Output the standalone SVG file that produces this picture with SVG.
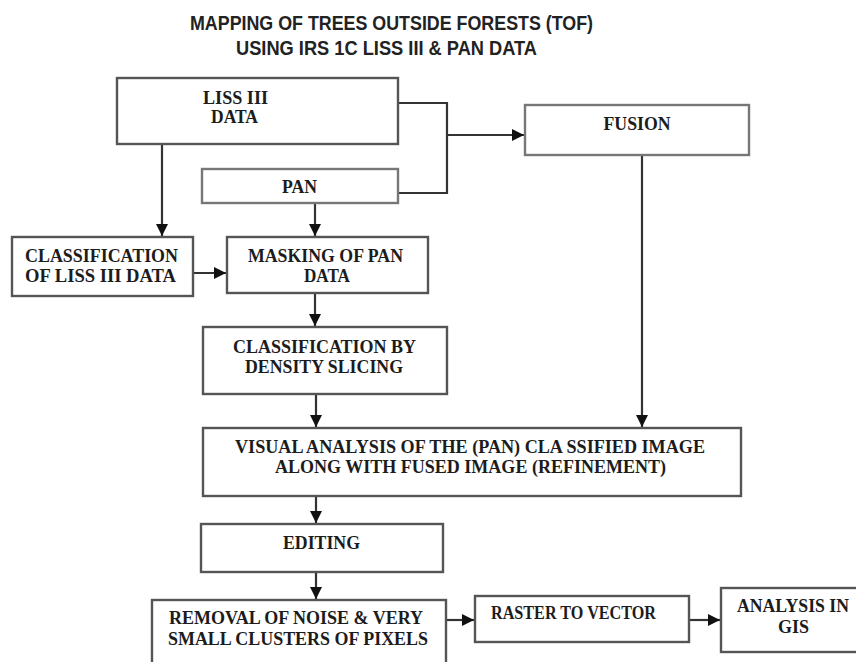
<svg xmlns="http://www.w3.org/2000/svg" width="856" height="662" viewBox="0 0 856 662">
<defs>
<marker id="ah" markerUnits="userSpaceOnUse" markerWidth="12" markerHeight="12" refX="12" refY="6" orient="auto">
<path d="M0,0 L12,6 L0,12 z" fill="#111"/>
</marker>
<style>
.box{fill:#fff;stroke:#555;stroke-width:2.4}
.lt{stroke:#777}
.t{font-family:"Liberation Serif","Times New Roman",serif;font-weight:bold;font-size:18px;fill:#1c1c1c;text-anchor:middle}
.title{font-family:"Liberation Sans Narrow","Liberation Sans",Arial,sans-serif;font-weight:bold;font-size:21px;fill:#222;text-anchor:middle}
.c{fill:none;stroke:#333;stroke-width:2.2}
.a{marker-end:url(#ah)}
</style>
</defs>
<rect width="856" height="662" fill="#fff"/>
<g id="title">
<text class="title" x="391.5" y="30" textLength="403" lengthAdjust="spacingAndGlyphs">MAPPING OF TREES OUTSIDE FORESTS (TOF)</text>
<text class="title" x="386.5" y="55" textLength="301" lengthAdjust="spacingAndGlyphs">USING IRS 1C LISS III &amp; PAN DATA</text>
</g>
<g id="connectors">
<path class="c" d="M398,103 H447 V193 H398"/>
<path class="c a" d="M447,135 H524"/>
<path class="c a" d="M162,144 V236"/>
<path class="c a" d="M315,203 V236"/>
<path class="c a" d="M193,273 H226"/>
<path class="c a" d="M315,293 V326"/>
<path class="c a" d="M316,394 V427"/>
<path class="c a" d="M642,155 V427"/>
<path class="c a" d="M316,496 V523"/>
<path class="c a" d="M316,572 V599"/>
<path class="c a" d="M446,620 H474"/>
<path class="c a" d="M689,620 H720"/>
</g>
<g id="liss">
<rect class="box" x="117" y="78" width="281" height="66"/>
<text class="t" x="235.5" y="104" textLength="65" lengthAdjust="spacingAndGlyphs">LISS III</text>
<text class="t" x="234.5" y="123" textLength="47" lengthAdjust="spacingAndGlyphs">DATA</text>
</g>
<g id="pan">
<rect class="box lt" x="202" y="169" width="196" height="34"/>
<text class="t" x="299.5" y="193" textLength="35" lengthAdjust="spacingAndGlyphs">PAN</text>
</g>
<g id="fusion">
<rect class="box lt" x="525" y="105" width="224" height="50"/>
<text class="t" x="637" y="130" textLength="67" lengthAdjust="spacingAndGlyphs">FUSION</text>
</g>
<g id="classLiss">
<rect class="box" x="12" y="237" width="181" height="59"/>
<text class="t" x="101.5" y="262" textLength="153" lengthAdjust="spacingAndGlyphs">CLASSIFICATION</text>
<text class="t" x="100.5" y="282" textLength="151" lengthAdjust="spacingAndGlyphs">OF LISS  III DATA</text>
</g>
<g id="masking">
<rect class="box" x="227" y="237" width="201" height="56"/>
<text class="t" x="325.5" y="262" textLength="155" lengthAdjust="spacingAndGlyphs">MASKING OF PAN</text>
<text class="t" x="327" y="282" textLength="46" lengthAdjust="spacingAndGlyphs">DATA</text>
</g>
<g id="density">
<rect class="box" x="203" y="327" width="244" height="67"/>
<text class="t" x="324.5" y="353" textLength="183" lengthAdjust="spacingAndGlyphs">CLASSIFICATION BY</text>
<text class="t" x="324" y="373" textLength="158" lengthAdjust="spacingAndGlyphs">DENSITY SLICING</text>
</g>
<g id="visual">
<rect class="box" x="203" y="428" width="538" height="68"/>
<text class="t" x="470" y="453" textLength="470" lengthAdjust="spacingAndGlyphs">VISUAL ANALYSIS OF THE (PAN) CLA SSIFIED IMAGE</text>
<text class="t" x="470.5" y="473" textLength="391" lengthAdjust="spacingAndGlyphs">ALONG WITH FUSED IMAGE (REFINEMENT)</text>
</g>
<g id="editing">
<rect class="box" x="201" y="524" width="242" height="48"/>
<text class="t" x="321.5" y="549" textLength="77" lengthAdjust="spacingAndGlyphs">EDITING</text>
</g>
<g id="removal">
<rect class="box" x="152" y="600" width="294" height="72"/>
<text class="t" x="296" y="624" textLength="254" lengthAdjust="spacingAndGlyphs">REMOVAL OF NOISE &amp; VERY</text>
<text class="t" x="298" y="645" textLength="260" lengthAdjust="spacingAndGlyphs">SMALL CLUSTERS OF PIXELS</text>
</g>
<g id="raster">
<rect class="box" x="475" y="596" width="214" height="46"/>
<text class="t" x="573.5" y="619" textLength="165" lengthAdjust="spacingAndGlyphs">RASTER TO VECTOR</text>
</g>
<g id="analysis">
<rect class="box" x="721" y="588" width="145" height="64"/>
<text class="t" x="793" y="612" textLength="112" lengthAdjust="spacingAndGlyphs">ANALYSIS IN</text>
<text class="t" x="793.5" y="633" textLength="31" lengthAdjust="spacingAndGlyphs">GIS</text>
</g>
</svg>
